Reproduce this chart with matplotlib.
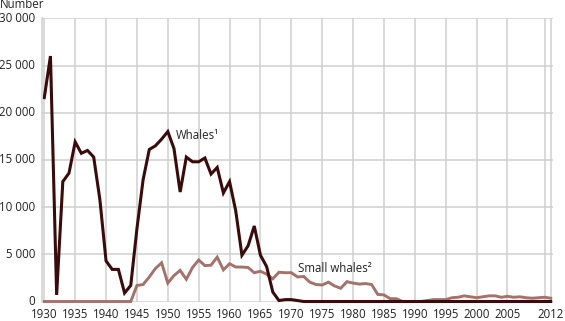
import matplotlib
matplotlib.use("Agg")
import matplotlib.pyplot as plt
import numpy as np

years = list(range(1930, 2013))

whales = [21600, 26000, 700, 12700, 13600, 16900, 15700, 16000, 15300, 10800,
          4300, 3400, 3400, 900, 1700, 7700, 12900, 16100, 16500, 17200,
          18000, 16200, 11600, 15300, 14800, 14800, 15200, 13500, 14200, 11500,
          12700, 9600, 4900, 5900, 8000, 4900, 3700, 1000, 100, 200,
          200, 100] + [0] * 41

small_whales = [0] * 15 + [1700, 1800, 2600, 3500, 4100,
                1950, 2750, 3300, 2350, 3600, 4400, 3800, 3850, 4700, 3350,
                4000, 3650, 3650, 3600, 3050, 3200, 2900, 2400, 3100, 3050,
                3050, 2600, 2650, 2050, 1800, 1750, 2050, 1650, 1400, 2100,
                1950, 1850, 1900, 1800, 750, 700, 300, 300, 0, 0,
                0, 0, 100, 200, 200, 200, 400, 450, 600, 500,
                400, 500, 600, 600, 450, 550, 450, 500, 400, 350,
                400, 450, 350]

xtick_labels = [str(y) for y in range(1930, 2010, 5)] + ["2012"]
xtick_pos = list(range(1930, 2010, 5)) + [2012]
ytick_pos = [0, 5000, 10000, 15000, 20000, 25000, 30000]
ytick_labels = ["0", "5 000", "10 000", "15 000", "20 000", "25 000", "30 000"]

plt.rcParams['font.family'] = ['Open Sans', 'DejaVu Sans']

W, H = 565, 321
fig = plt.figure(figsize=(W / 100, H / 100), dpi=100)
left, right, top, bottom = 42, 553, 18.3, 301.5
ax = fig.add_axes([left / W, 1 - bottom / H, (right - left) / W, (bottom - top) / H])

grid_c = "#cfcfcf"
ax.set_xlim(1929.63, 2012.37)
ax.set_ylim(0, 30000)
ax.set_xticks(xtick_pos)
ax.set_xticklabels(xtick_labels)
ax.set_yticks(ytick_pos)
ax.set_yticklabels(ytick_labels)
ax.tick_params(length=0, labelsize=8.3, colors="#222222")
ax.tick_params(axis='x', pad=5)
ax.tick_params(axis='y', pad=5)
for lab in ax.get_yticklabels():
    lab.set_va("center")
ax.grid(True, color=grid_c, lw=1.1)
ax.axvline(2011, color=grid_c, lw=1.1, zorder=0.5)
ax.set_axisbelow(True)
for s in ["top", "right", "bottom"]:
    ax.spines[s].set_visible(False)
ax.spines["left"].set_color(grid_c)
ax.spines["left"].set_linewidth(1.1)

ax.plot(years, small_whales, color="#a3736b", lw=2.1, clip_on=False, solid_joinstyle='miter')
ax.plot(years, whales, color="#3a0b0b", lw=2.2, clip_on=False, solid_joinstyle='miter')

ax.text(1951.3, 17600, "Whales\u00b9", fontsize=8.3, va="center", ha="left", color="#222222")
ax.text(1971.1, 3500, "Small whales\u00b2", fontsize=8.3, va="center", ha="left", color="#222222")

fig.text(0.0, 1 - 5 / H, "Number", fontsize=8.3, va="center", ha="left", color="#222222")

fig.savefig("out.png", dpi=100)
